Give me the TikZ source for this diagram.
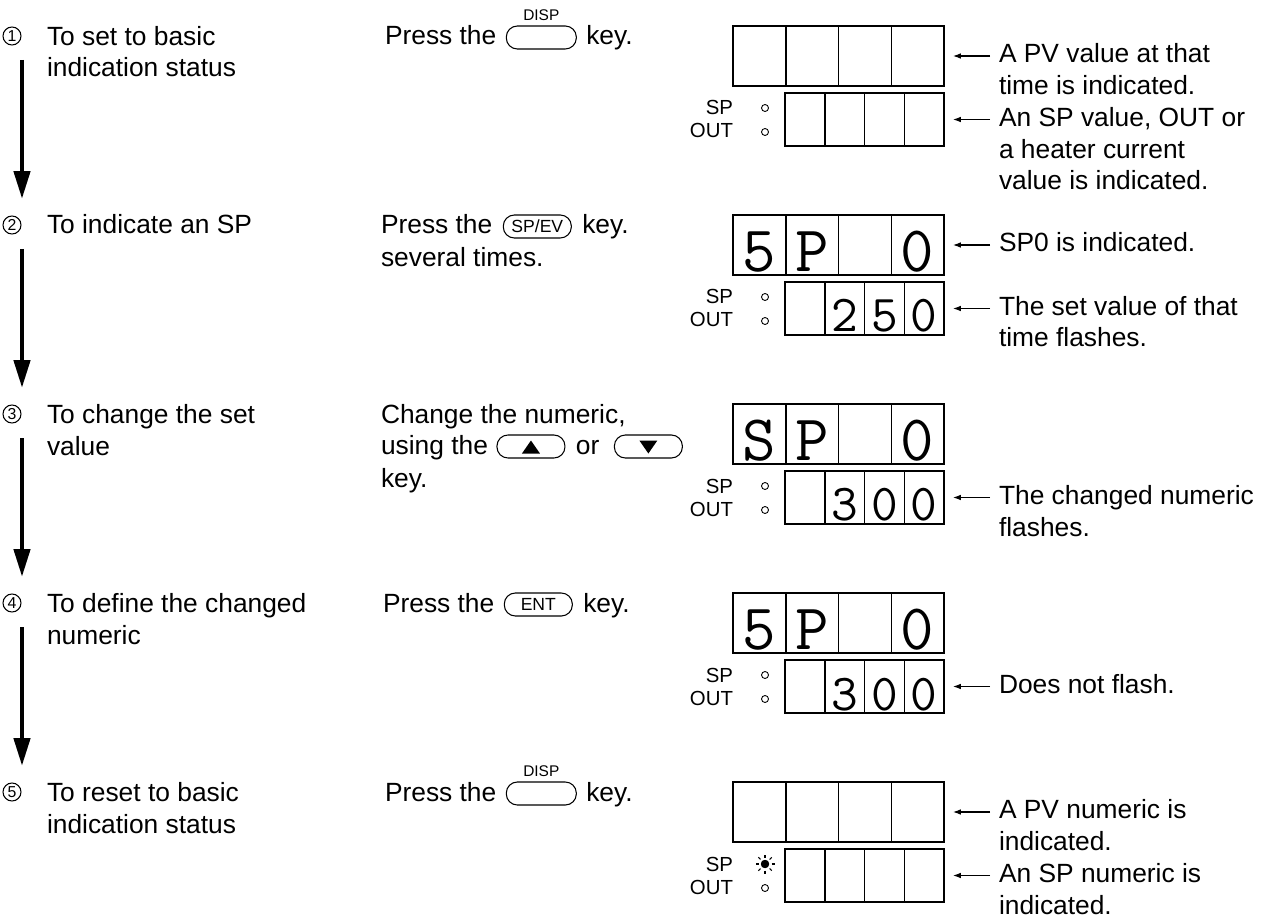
\documentclass[tikz,border=0pt]{standalone}
\usepackage{fontspec}
\setmainfont{Liberation Sans}
\usetikzlibrary{positioning,arrows.meta,calc}

\begin{document}
\begin{tikzpicture}[
    x=0.02cm, y=-0.02cm,
    every node/.style={inner sep=0pt, outer sep=0pt},
    txt/.style={anchor=base west, align=left, font=\fontsize{15}{18.1}\selectfont},
    stagenum/.style={draw, circle, line width=0.6pt, minimum size=0.36cm, font=\fontsize{9}{10}\selectfont},
    keycap/.style={draw, line width=0.6pt, rounded corners=0.22cm, minimum width=1.36cm, minimum height=0.46cm, font=\fontsize{10}{11}\selectfont},
    pvbox/.style={draw, line width=0.85pt, minimum width=4.22cm, minimum height=1.2cm},
    svbox/.style={draw, line width=0.85pt, minimum width=3.18cm, minimum height=1.06cm},
    cell/.style={line width=0.85pt},
    bigdigit/.style={anchor=base, font=\ttfamily\fontsize{37}{37}\selectfont},
    smalldigit/.style={anchor=base, font=\ttfamily\fontsize{29.5}{30}\selectfont},
    tag/.style={anchor=base east, font=\fontsize{11.6}{13}\selectfont},
    lamp/.style={draw, circle, line width=0.5pt, minimum size=0.14cm},
    flow/.style={line width=2.6pt, -{Triangle[width=0.32cm, length=0.56cm]}},
    pointer/.style={line width=0.6pt, -{Latex[length=4.5pt, width=3.2pt]}, shorten <=0.18cm, shorten >=0.18cm}
]
\useasboundingbox (0,0) rectangle (1270,918);

% stages on the left (multi-line nodes sit on their last line)
\foreach \i/\Y in {1/26,2/215,3/404,4/593,5/782}
  \node[stagenum] (c\i) at (12,\Y+10) {\i};
\node[txt] (s1) at (47,77) {To set to basic\\indication status};
\node[txt] (s2) at (47,234) {To indicate an SP};
\node[txt] (s3) at (47,455) {To change the set\\value};
\node[txt] (s4) at (47,644) {To define the changed\\numeric};
\node[txt] (s5) at (47,833) {To reset to basic\\indication status};
\foreach \i/\j in {1/2,2/3,3/4,4/5}
  \draw[flow] ($(c\i)+(10,24)$) -- ($(c\j)+(10,-26)$);

% key operations
\node[txt] (p1) at (385,45) {Press the};
\node[keycap, anchor=west, minimum width=1.4cm] (k1) at ([xshift=0.2cm, yshift=0.15cm]p1.base east) {};
\node[font=\fontsize{8.8}{9}\selectfont, above=0.1cm of k1] (k1lbl) {DISP};
\node[txt] (kt1) at ([xshift=0.2cm]k1.east |- p1.base) {key.};

\node[txt] (p2) at (381,234) {Press the};
\node[keycap, anchor=west] (k2) at ([xshift=0.22cm, yshift=0.15cm]p2.base east) {SP/EV};
\node[txt] (kt2) at ([xshift=0.22cm]k2.east |- p2.base) {key.};
\node[txt] (p2b) at (381,267) {several times.};

\node[txt] (p3) at (381,423) {Change the numeric,};
\node[txt] (p3b) at (381,454) {using the};
\node[keycap, anchor=west] (k3u) at ([xshift=0.18cm, yshift=0.15cm]p3b.base east) {};
\node[txt] (or3) at ([xshift=0.22cm]k3u.east |- p3b.base) {or};
\node[keycap, anchor=west] (k3d) at ([xshift=0.3cm, yshift=0.15cm]or3.base east) {};
\node[txt] (kt3) at (381,487) {key.};
\fill ($(k3u)+(-9,7)$) -- ($(k3u)+(9,7)$) -- ($(k3u)+(0,-6)$) -- cycle;
\fill ($(k3d)+(-9,-6)$) -- ($(k3d)+(9,-6)$) -- ($(k3d)+(0,7)$) -- cycle;

\node[txt] (p4) at (383,612) {Press the};
\node[keycap, anchor=west] (k4) at ([xshift=0.2cm, yshift=0.15cm]p4.base east) {ENT};
\node[txt] (kt4) at ([xshift=0.22cm]k4.east |- p4.base) {key.};

\node[txt] (p5) at (385,801) {Press the};
\node[keycap, anchor=west, minimum width=1.4cm] (k5) at ([xshift=0.2cm, yshift=0.15cm]p5.base east) {};
\node[font=\fontsize{8.8}{9}\selectfont, above=0.1cm of k5] (k5lbl) {DISP};
\node[txt] (kt5) at ([xshift=0.2cm]k5.east |- p5.base) {key.};

% displays
\foreach \i/\Y in {1/26,2/215,3/404,4/593,5/782} {
  \node[pvbox] (pv\i) at (838.5,\Y+30) {};
  \node[svbox] (sv\i) at (864.5,\Y+93.5) {};
  \foreach \k in {1,2,3} {
    \draw[cell] ($(pv\i.north west)+(52.75*\k,0)$) -- ($(pv\i.south west)+(52.75*\k,0)$);
    \draw[cell] ($(sv\i.north west)+(39.75*\k,0)$) -- ($(sv\i.south west)+(39.75*\k,0)$);
  }
  \node[tag] (sp\i) at (733,\Y+89) {SP};
  \node[tag] (out\i) at (733,\Y+112) {OUT};
  \node[lamp] (spl\i) at (765,\Y+82) {};
  \node[lamp] (outl\i) at (765,\Y+106) {};
}
\fill (spl5) circle (4.2);
\foreach \a in {0,45,...,315}
  \draw[line width=0.6pt] ($(spl5)+(\a:6.5)$) -- ($(spl5)+(\a:9.5)$);

\foreach \i/\k/\d in {2/1/5,2/2/P,2/4/0,3/1/S,3/2/P,3/4/0,4/1/5,4/2/P,4/4/0}
  \node[bigdigit] (d\i\k) at ($(pv\i.south west)+(52.75*\k-26.4,-3)$) {\d};
\foreach \i/\k/\d in {2/2/2,2/3/5,2/4/0,3/2/3,3/3/0,3/4/0,4/2/3,4/3/0,4/4/0}
  \node[smalldigit] (e\i\k) at ($(sv\i.south west)+(39.75*\k-19.9,-3)$) {\d};

% notes on the right
\node[txt] (n11) at (999,94.5) {A PV value at that\\time is indicated.};
\node[txt] (n12) at (999,190) {An SP value, OUT or\\a heater current\\value is indicated.};
\node[txt] (n21) at (999,251.5) {SP0 is indicated.};
\node[txt] (n22) at (999,347) {The set value of that\\time flashes.};
\node[txt] (n32) at (999,536) {The changed numeric\\flashes.};
\node[txt] (n42) at (999,693) {Does not flash.};
\node[txt] (n51) at (999,850.5) {A PV numeric is\\indicated.};
\node[txt] (n52) at (999,914) {An SP numeric is\\indicated.};
\draw[pointer] (n11.west |- pv1.east) -- (pv1.east);
\draw[pointer] (n12.west |- sv1.east) -- (sv1.east);
\draw[pointer] (n21.west |- pv2.east) -- (pv2.east);
\draw[pointer] (n22.west |- sv2.east) -- (sv2.east);
\draw[pointer] (n32.west |- sv3.east) -- (sv3.east);
\draw[pointer] (n42.west |- sv4.east) -- (sv4.east);
\draw[pointer] (n51.west |- pv5.east) -- (pv5.east);
\draw[pointer] (n52.west |- sv5.east) -- (sv5.east);
\end{tikzpicture}
\end{document}
